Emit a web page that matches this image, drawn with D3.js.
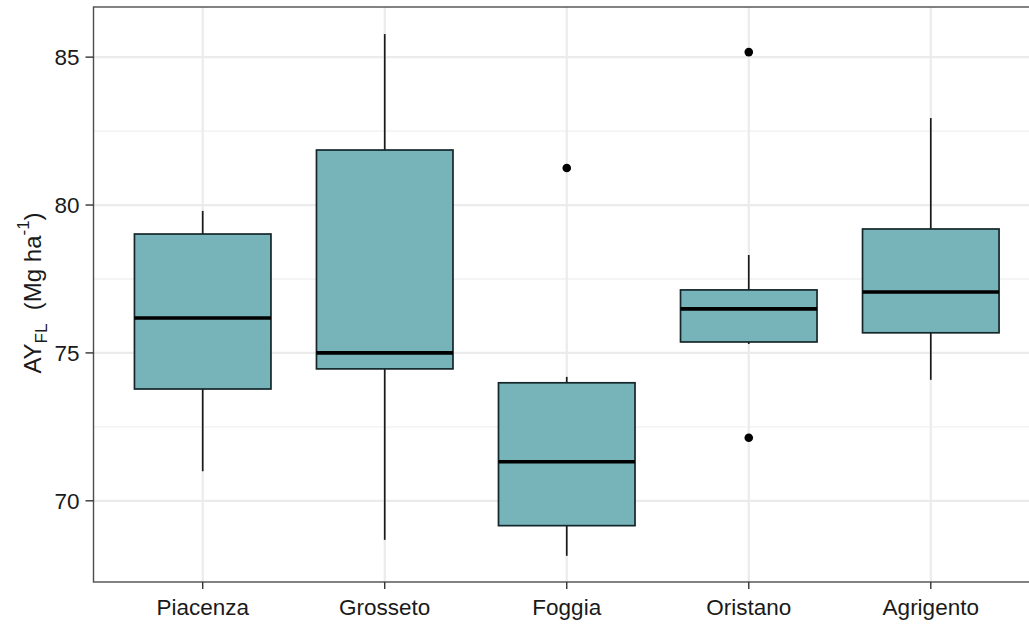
<!DOCTYPE html>
<html><head><meta charset="utf-8">
<script src="https://cdn.jsdelivr.net/npm/d3@7"></script>
<style>body{margin:0;background:#fff;} svg{display:block;font-family:"Liberation Sans",Arial,sans-serif;}</style>
</head><body>
<svg id="c" width="1029" height="624"></svg>
<script>
const categories = ["Piacenza","Grosseto","Foggia","Oristano","Agrigento"];
const whiskerLow  = [71.0, 68.68, 68.14, 75.3, 74.09];
const q1          = [73.78, 74.46, 69.16, 75.37, 75.68];
const median      = [76.18, 75.0, 71.32, 76.49, 77.06];
const q3          = [79.02, 81.86, 73.99, 77.13, 79.19];
const whiskerHigh = [79.8, 85.78, 74.19, 78.31, 82.94];
const outliers    = [[], [], [81.25], [85.17, 72.13], []];
const yTicks = [70, 75, 80, 85];
const yMinor = [72.5, 77.5, 82.5];

const svg = d3.select("#c");
const m = {left: 93.5, top: 7, right: 1040, bottom: 582};
// ggplot-like discrete axis: expansion of 0.6 category steps on each side
const x = d3.scalePoint().domain(categories).range([m.left, m.right]).padding(0.6);
const step = x.step();
const y = d3.scaleLinear().domain([67.255, 86.695]).range([m.bottom, m.top]);

const g = svg.append("g");
g.append("rect").attr("x", m.left).attr("y", m.top).attr("width", m.right - m.left).attr("height", m.bottom - m.top).attr("fill", "#fff");
// minor grid
g.selectAll(".mn").data(yMinor).join("line").attr("x1", m.left).attr("x2", m.right)
  .attr("y1", d => y(d)).attr("y2", d => y(d)).attr("stroke", "#f0f0f0").attr("stroke-width", 1.4);
// major grid
g.selectAll(".mj").data(yTicks).join("line").attr("x1", m.left).attr("x2", m.right)
  .attr("y1", d => y(d)).attr("y2", d => y(d)).attr("stroke", "#ebebeb").attr("stroke-width", 2.2);
g.selectAll(".vx").data(categories).join("line").attr("y1", m.top).attr("y2", m.bottom)
  .attr("x1", d => x(d)).attr("x2", d => x(d)).attr("stroke", "#ebebeb").attr("stroke-width", 2.2);

const bw = step * 0.75;
categories.forEach((c, i) => {
  const xc = x(c);
  g.append("line").attr("x1", xc).attr("x2", xc).attr("y1", y(whiskerHigh[i])).attr("y2", y(q3[i])).attr("stroke", "#1a1a1a").attr("stroke-width", 1.7);
  g.append("line").attr("x1", xc).attr("x2", xc).attr("y1", y(q1[i])).attr("y2", y(whiskerLow[i])).attr("stroke", "#1a1a1a").attr("stroke-width", 1.7);
  g.append("rect").attr("x", xc - bw / 2).attr("width", bw).attr("y", y(q3[i])).attr("height", y(q1[i]) - y(q3[i]))
    .attr("fill", "#76b4b9").attr("stroke", "#14262a").attr("stroke-width", 1.7);
  g.append("line").attr("x1", xc - bw / 2).attr("x2", xc + bw / 2).attr("y1", y(median[i])).attr("y2", y(median[i])).attr("stroke", "#000").attr("stroke-width", 3.6);
  outliers[i].forEach(o => g.append("circle").attr("cx", xc).attr("cy", y(o)).attr("r", 4.3).attr("fill", "#000"));
});

// panel border
g.append("rect").attr("x", m.left).attr("y", m.top).attr("width", m.right - m.left).attr("height", m.bottom - m.top)
  .attr("fill", "none").attr("stroke", "#4d4d4d").attr("stroke-width", 1.4);

// y axis
yTicks.forEach(t => {
  g.append("line").attr("x1", m.left - 8).attr("x2", m.left).attr("y1", y(t)).attr("y2", y(t)).attr("stroke", "#333").attr("stroke-width", 1.4);
  g.append("text").attr("x", m.left - 14).attr("y", y(t)).attr("dy", "0.36em").attr("text-anchor", "end")
    .attr("font-size", 22.5).attr("fill", "#1a1a1a").text(t);
});
// x axis
categories.forEach(c => {
  g.append("line").attr("x1", x(c)).attr("x2", x(c)).attr("y1", m.bottom).attr("y2", m.bottom + 7).attr("stroke", "#333").attr("stroke-width", 1.4);
  g.append("text").attr("x", x(c)).attr("y", m.bottom + 33).attr("text-anchor", "middle")
    .attr("font-size", 22.5).attr("fill", "#1a1a1a").text(c);
});

// y label
const yl = svg.append("text").attr("transform", `translate(41,293) rotate(-90)`)
  .attr("text-anchor", "middle").attr("font-size", 24).attr("fill", "#1a1a1a");
yl.append("tspan").text("AY");
yl.append("tspan").attr("font-size", 17).attr("dy", 6).text("FL");
yl.append("tspan").attr("dy", -6).text("\u00a0\u00a0(Mg ha");
yl.append("tspan").attr("font-size", 17).attr("dy", -12).text("-1");
yl.append("tspan").attr("dy", 12).text(")");
</script>
</body></html>
